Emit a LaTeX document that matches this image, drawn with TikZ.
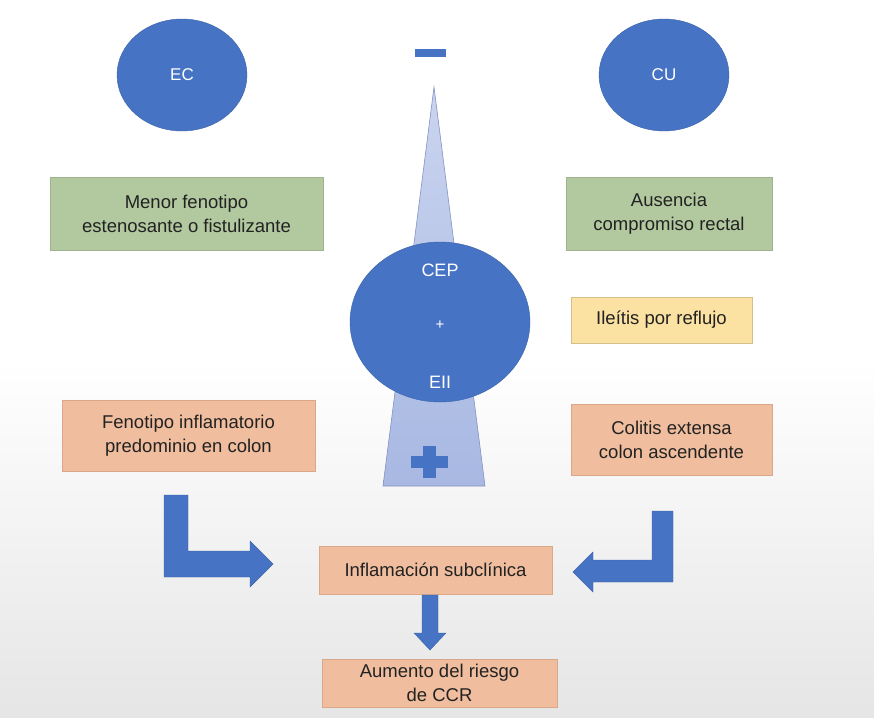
\documentclass[tikz,border=0pt]{standalone}
\usepackage{fontspec}
\setmainfont{Liberation Sans}
\usetikzlibrary{shapes.geometric}
\definecolor{obl}{HTML}{4673C4}
\definecolor{gfill}{HTML}{B2C9A0}
\definecolor{gline}{HTML}{9FB48C}
\definecolor{ofill}{HTML}{F0BE9E}
\definecolor{oline}{HTML}{D9A889}
\definecolor{yfill}{HTML}{FBE2A2}
\definecolor{ttop}{HTML}{CAD4EF}
\definecolor{tbot}{HTML}{A8B8E2}
\definecolor{tline}{HTML}{8393C3}
\definecolor{txt}{HTML}{222222}
\tikzset{
  blob/.style={ellipse, fill=obl, draw=obl!85!black, line width=0.4pt, text=white, font=\fontsize{17}{19}\selectfont},
  boxtext/.style={align=center, text=txt, font=\fontsize{18.5}{24}\selectfont, inner sep=0pt, line width=0.5pt},
  gbox/.style={rectangle, boxtext, fill=gfill, draw=gline},
  obox/.style={rectangle, boxtext, fill=ofill, draw=oline},
  ybox/.style={rectangle, boxtext, fill=yfill, draw=yfill!85!black},
  barrow/.style={fill=obl, draw=obl!85!black, line width=0.4pt},
  wlabel/.style={text=white, font=\fontsize{18}{20}\selectfont}
}
\begin{document}
\begin{tikzpicture}[x=1pt,y=-1pt]
\useasboundingbox (0,0) rectangle (874,717);
\fill[white] (0,0) rectangle (874,360);
\shade[top color=white, bottom color=black!10] (0,360) rectangle (874,717);

% triangle
\shade[top color=ttop, bottom color=tbot] (434,87) -- (485,486) -- (383,486) -- cycle;
\draw[tline, line width=0.6pt] (434,87) -- (485,486) -- (383,486) -- cycle;
\node[blob, minimum width=130pt, minimum height=112pt] (ec) at (182,75) {EC};
\node[blob, minimum width=130pt, minimum height=112pt] (cu) at (664,75) {CU};
\fill[obl] (415,49) rectangle (446,57);
\node[blob, minimum width=180pt, minimum height=160pt] (cep) at (440,322) {};
\node[wlabel] (cept) at (440,270) {CEP};
\node[wlabel, font=\fontsize{15}{17}\selectfont] (plust) at (440,325) {+};
\node[wlabel] (eiit) at (440,382) {EII};
% plus in triangle
\fill[obl] (423,446) rectangle (436,478);
\fill[obl] (411,456) rectangle (448,468);

\node[gbox, minimum width=273pt, minimum height=73pt] (g1) at (186.5,213.5) {Menor fenotipo\\estenosante o fistulizante};
\node[gbox, minimum width=206pt, minimum height=73pt] (g2) at (669,213.5) {Ausencia\\compromiso rectal};
\node[ybox, minimum width=181pt, minimum height=46pt] (y1) at (661.5,320) {Ileítis por reflujo};
\node[obox, minimum width=253pt, minimum height=71pt] (o1) at (188.5,435.5) {Fenotipo inflamatorio\\predominio en colon};
\node[obox, minimum width=201pt, minimum height=71pt] (o2) at (671.5,439.5) {Colitis extensa\\colon ascendente};
\node[obox, minimum width=233pt, minimum height=48pt] (inf) at (435.5,570) {Inflamación subclínica};
\node[obox, minimum width=235pt, minimum height=48pt] (aum) at (439.5,683) {Aumento del riesgo\\de CCR};

% left L arrow
\path[barrow] (164,495) -- (188,495) -- (188,551) -- (250,551) -- (250,541) -- (273,564) -- (250,587) -- (250,577) -- (164,577) -- cycle;
% right L arrow
\path[barrow] (673,511) -- (652,511) -- (652,560) -- (593,560) -- (593,552) -- (573,572) -- (593,592) -- (593,582) -- (673,582) -- cycle;
% down arrow
\path[barrow] (422,595) -- (438,595) -- (438,633) -- (446,633) -- (430,650) -- (414,633) -- (422,633) -- cycle;
\end{tikzpicture}
\end{document}
